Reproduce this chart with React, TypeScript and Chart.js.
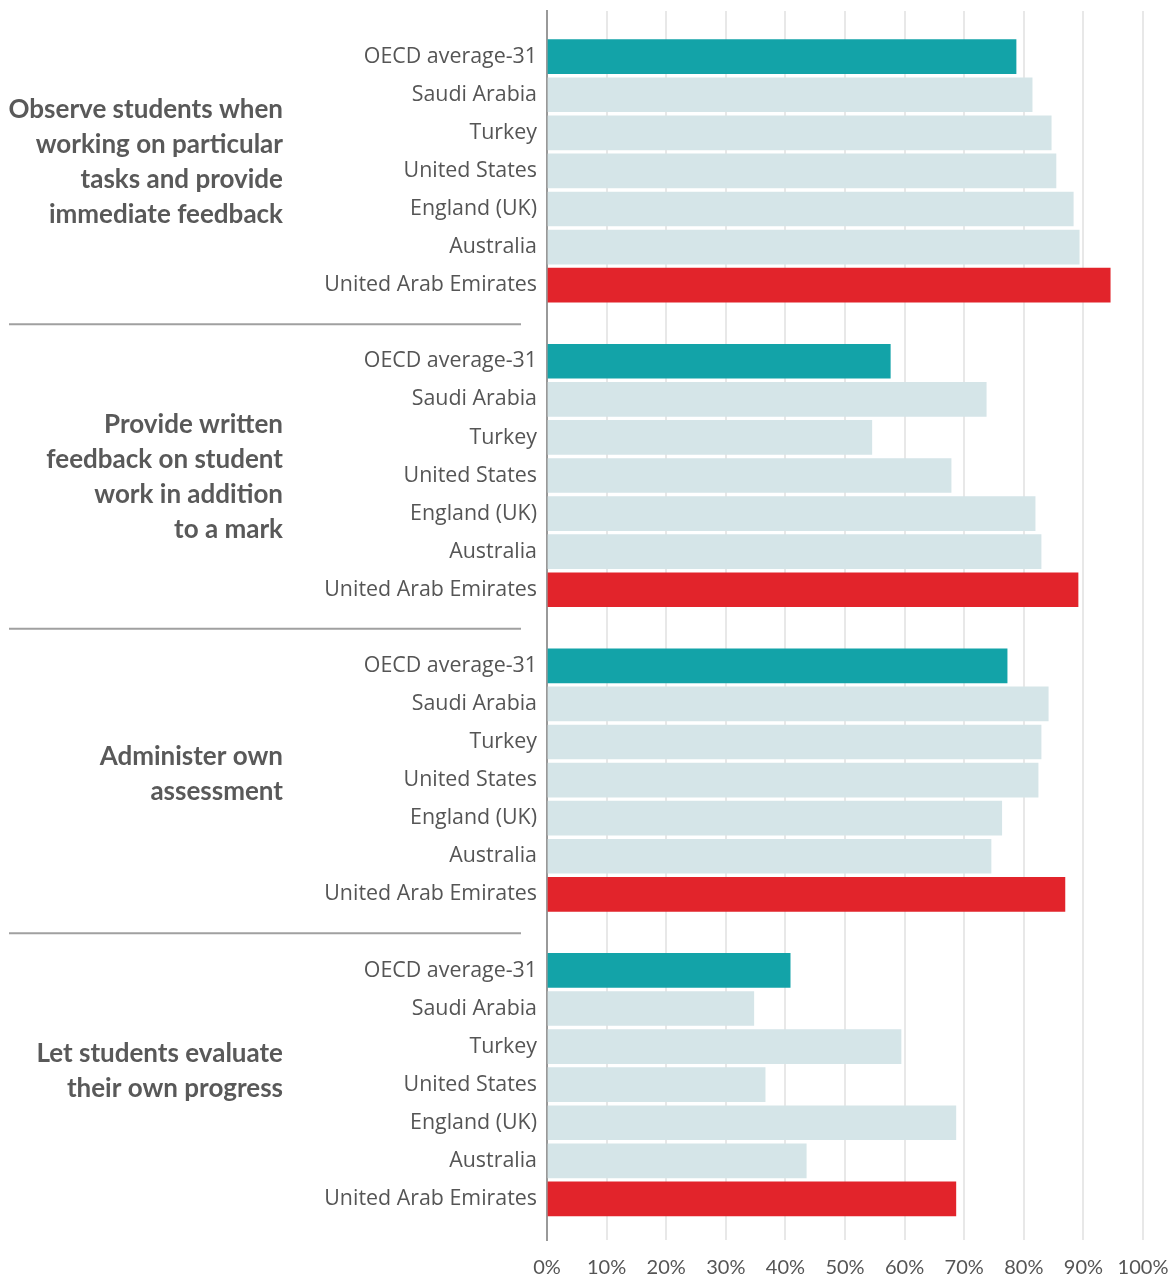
import React, { useEffect, useRef } from "react";
import { Chart, registerables } from "chart.js";

Chart.register(...registerables);

const countries = [
  "OECD average-31",
  "Saudi Arabia",
  "Turkey",
  "United States",
  "England (UK)",
  "Australia",
  "United Arab Emirates",
];

const groupTitles = [
  ["Observe students when", "working on particular", "tasks and provide", "immediate feedback"],
  ["Provide written", "feedback on student", "work in addition", "to a mark"],
  ["Administer own", "assessment"],
  ["Let students evaluate", "their own progress"],
];

const observeValues = [78.7, 81.4, 84.6, 85.4, 88.3, 89.3, 94.5];
const writtenValues = [57.6, 73.7, 54.5, 67.8, 81.9, 82.9, 89.1];
const administerValues = [77.2, 84.1, 82.9, 82.4, 76.3, 74.5, 86.9];
const evaluateValues = [40.8, 34.7, 59.4, 36.6, 68.6, 43.5, 68.6];

const groupValues = [observeValues, writtenValues, administerValues, evaluateValues];

const xTicks = [0, 10, 20, 30, 40, 50, 60, 70, 80, 90, 100];

const TEAL = "#13a3a8";
const LIGHT = "#d5e5e8";
const RED = "#e2242b";

// label vertical shifts (px) relative to group center
const labelShift = [-9, 2, -6, -14];
const Y_MIN = -1.2;
const Y_MAX = 31.08;

type Row = { label: string; value: number | null; group: number; idx: number };

function buildRows(): Row[] {
  const rows: Row[] = [];
  groupValues.forEach((vals, g) => {
    if (g > 0) rows.push({ label: "", value: null, group: -1, idx: -1 });
    countries.forEach((c, i) => rows.push({ label: c, value: vals[i], group: g, idx: i }));
  });
  return rows;
}

export default function App() {
  const ref = useRef<HTMLCanvasElement | null>(null);

  useEffect(() => {
    document.body.style.margin = "0";
    document.body.style.overflow = "hidden";
    const rows = buildRows();
    const data = rows
      .map((r, i) => ({ r, i }))
      .filter((o) => o.r.value !== null)
      .map((o) => ({ x: o.r.value as number, y: o.i }));
    const colors = rows
      .filter((r) => r.value !== null)
      .map((r) => (r.idx === 0 ? TEAL : r.idx === countries.length - 1 ? RED : LIGHT));

    const groupPlugin = {
      id: "groupLabels",
      afterDraw(chart: any) {
        const ctx = chart.ctx;
        const y = chart.scales.y;
        ctx.save();
        ctx.strokeStyle = "#a0a0a0";
        ctx.lineWidth = 2;
        rows.forEach((r, i) => {
          if (r.value === null) {
            const py = y.getPixelForValue(i);
            ctx.beginPath();
            ctx.moveTo(9, py + 1);
            ctx.lineTo(521, py + 1);
            ctx.stroke();
          }
        });
        ctx.font = "bold 26px Lato";
        ctx.fillStyle = "#595959";
        ctx.textAlign = "right";
        ctx.textBaseline = "middle";
        groupTitles.forEach((lines, g) => {
          const idxs = rows.map((r, i) => (r.group === g ? i : -1)).filter((i) => i >= 0);
          const center =
            (y.getPixelForValue(idxs[0]) + y.getPixelForValue(idxs[idxs.length - 1])) / 2 +
            labelShift[g];
          const lh = 35;
          const start = center - ((lines.length - 1) * lh) / 2;
          lines.forEach((t, k) => ctx.fillText(t, 283, start + k * lh));
        });
        ctx.restore();
      },
    };

    const chart = new Chart(ref.current as HTMLCanvasElement, {
      type: "bar",
      data: {
        datasets: [
          {
            data: data as any,
            backgroundColor: colors,
            barThickness: 34,
            borderWidth: 0,
          },
        ],
      },
      options: {
        indexAxis: "y",
        animation: false,
        responsive: true,
        maintainAspectRatio: false,
        layout: { padding: { top: 11, right: 31, left: 0, bottom: 0 } },
        plugins: { legend: { display: false }, tooltip: { enabled: false } },
        scales: {
          x: {
            type: "linear",
            min: 0,
            max: 100,
            afterBuildTicks: (s: any) => {
              s.ticks = xTicks.map((v) => ({ value: v }));
            },
            afterFit: (s: any) => {
              s.height = 39;
              s.paddingLeft = 0;
              s.paddingRight = 0;
            },
            ticks: {
              callback: (v: any) => v + "%",
              font: { family: "Lato", size: 20 },
              color: "#555",
              padding: 16,
              maxRotation: 0,
            },
            grid: { color: "#e8e8e8", lineWidth: 2, drawTicks: false },
            border: { display: false },
          },
          y: {
            type: "linear",
            reverse: true,
            offset: false,
            bounds: "data",
            min: Y_MIN,
            max: Y_MAX,
            afterBuildTicks: (s: any) => {
              s.ticks = rows
                .map((r, i) => ({ r, i }))
                .filter((o) => o.r.value !== null)
                .map((o) => ({ value: o.i }));
              s.min = Y_MIN;
              s.max = Y_MAX;
            },
            afterFit: (s: any) => {
              s.width = 547;
              s.paddingTop = 0;
              s.paddingBottom = 0;
            },
            ticks: {
              callback: (v: any) => rows[v as number]?.label ?? "",
              font: { family: "Open Sans", size: 21.4 },
              color: "#555",
              padding: 10,
              autoSkip: false,
            },
            grid: { display: false, drawTicks: false, offset: false },
            border: { display: true, color: "#999", width: 2 },
          },
        },
      },
      plugins: [groupPlugin],
    });
    return () => chart.destroy();
  }, []);

  return (
    <div style={{ width: 1174, height: 1279, position: "relative" }}>
      <canvas ref={ref} />
    </div>
  );
}
